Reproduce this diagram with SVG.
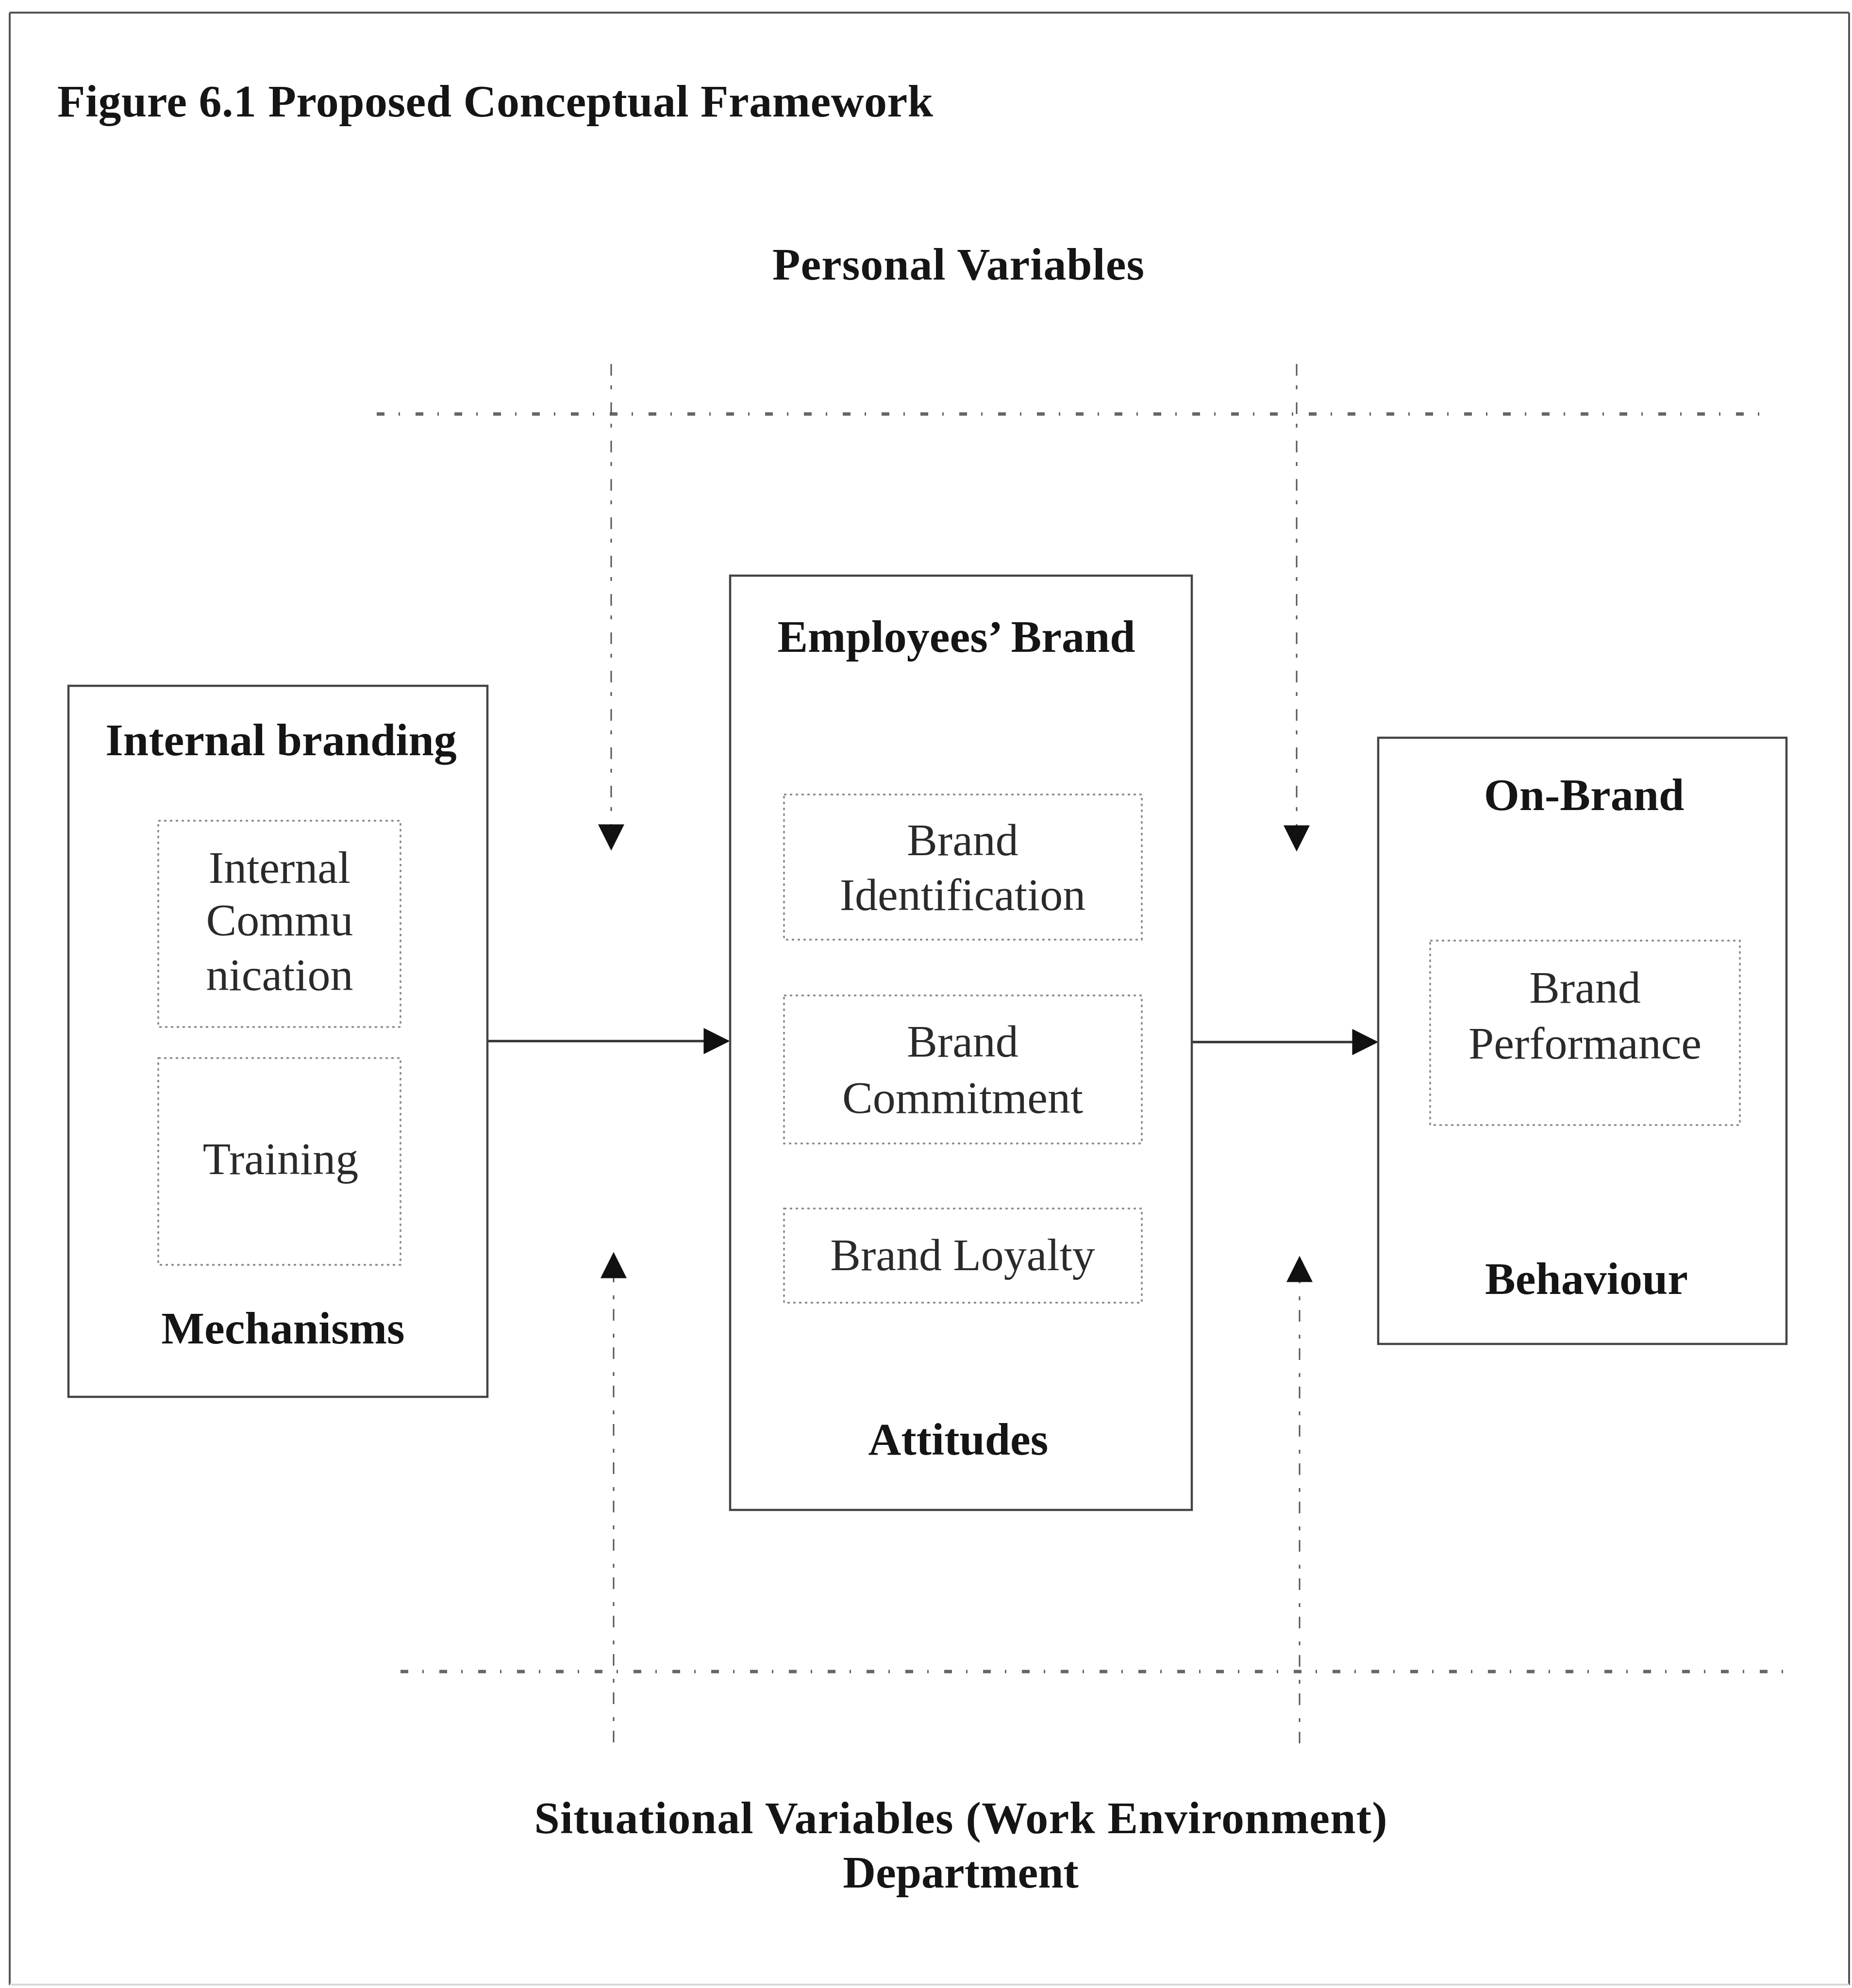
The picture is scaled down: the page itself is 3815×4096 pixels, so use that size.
<svg xmlns="http://www.w3.org/2000/svg" width="3815" height="4096" viewBox="0 0 3815 4096">
  <defs>
    <marker id="head" markerUnits="userSpaceOnUse" markerWidth="54" markerHeight="54" viewBox="0 0 52 52" refX="40" refY="26" orient="auto">
      <path d="M0,0 L52,26 L0,52 z" fill="#111"/>
    </marker>
    <style>
      .frame { fill: none; stroke: #555; stroke-width: 4; }
      .box { fill: none; stroke: #444; stroke-width: 4.5; }
      .inner { fill: none; stroke: #888; stroke-width: 3.5; stroke-dasharray: 5 7; }
      .flow { stroke: #333; stroke-width: 5; fill: none; }
      .vdash { stroke: #555; stroke-width: 3; fill: none; stroke-dasharray: 24 20 8 27; }
      .hdash { stroke: #666; stroke-width: 7; fill: none; stroke-dasharray: 16 29 3 32; }
      .head { font-family: "Liberation Serif", "Times New Roman", serif; font-weight: bold; font-size: 94px; fill: #151515; text-anchor: middle; }
      .label { font-family: "Liberation Serif", "Times New Roman", serif; font-size: 94px; fill: #2a2a2a; text-anchor: middle; }
      .title { font-family: "Liberation Serif", "Times New Roman", serif; font-weight: bold; font-size: 94px; fill: #151515; }
    </style>
  </defs>

  <rect width="3815" height="4096" fill="#ffffff"/>

  <!-- outer border of the figure -->
  <g id="frame">
    <line class="frame" x1="20" y1="26" x2="3809" y2="26"/>
    <line class="frame" x1="20" y1="26" x2="20" y2="4090"/>
    <line class="frame" x1="3809" y1="26" x2="3809" y2="4090"/>
    <line x1="20" y1="4089" x2="3809" y2="4089" stroke="#d8d8d8" stroke-width="4"/>
  </g>

  <text id="title" class="title" x="118" y="240" textLength="1804" lengthAdjust="spacing">Figure 6.1 Proposed Conceptual Framework</text>

  <!-- moderator labels -->
  <g id="personal-variables">
    <text class="head" x="1974" y="576" textLength="766" lengthAdjust="spacing">Personal Variables</text>
  </g>
  <g id="situational-variables">
    <text class="head" x="1979" y="3777" textLength="1757" lengthAdjust="spacing">Situational Variables (Work Environment)</text>
    <text class="head" x="1979" y="3889">Department</text>
  </g>

  <!-- connectors -->
  <g id="connectors">
    <line class="hdash" x1="776" y1="853" x2="3632" y2="853"/>
    <line class="hdash" x1="825" y1="3444" x2="3690" y2="3444"/>

    <line class="vdash" x1="1259" y1="750" x2="1259" y2="1740" marker-end="url(#head)"/>
    <line class="vdash" x1="2671" y1="750" x2="2671" y2="1742" marker-end="url(#head)"/>
    <line class="vdash" x1="1264" y1="3590" x2="1264" y2="2592" marker-end="url(#head)"/>
    <line class="vdash" x1="2677" y1="3592" x2="2677" y2="2600" marker-end="url(#head)"/>

    <line class="flow" x1="1004" y1="2145" x2="1491" y2="2145" marker-end="url(#head)"/>
    <line class="flow" x1="2455" y1="2147" x2="2827" y2="2147" marker-end="url(#head)"/>
  </g>

  <!-- Internal branding mechanisms -->
  <g id="internal-branding">
    <rect class="box" x="141" y="1413" width="863" height="1465"/>
    <text class="head" x="579" y="1556">Internal branding</text>
    <text class="head" x="583" y="2768">Mechanisms</text>
  </g>
  <g id="internal-communication">
    <rect class="inner" x="326" y="1691" width="499" height="425"/>
    <text class="label" x="576" y="1819">Internal</text>
    <text class="label" x="576" y="1927">Commu</text>
    <text class="label" x="576" y="2040">nication</text>
  </g>
  <g id="training">
    <rect class="inner" x="326" y="2180" width="499" height="426"/>
    <text class="label" x="578" y="2419">Training</text>
  </g>

  <!-- Employees' brand attitudes -->
  <g id="employees-brand">
    <rect class="box" x="1504" y="1186" width="951" height="1925"/>
    <text class="head" x="1970" y="1343">Employees&#8217; Brand</text>
    <text class="head" x="1974" y="2997">Attitudes</text>
  </g>
  <g id="brand-identification">
    <rect class="inner" x="1615" y="1637" width="737" height="299"/>
    <text class="label" x="1983" y="1762">Brand</text>
    <text class="label" x="1983" y="1875">Identification</text>
  </g>
  <g id="brand-commitment">
    <rect class="inner" x="1615" y="2051" width="737" height="305"/>
    <text class="label" x="1983" y="2177">Brand</text>
    <text class="label" x="1983" y="2293">Commitment</text>
  </g>
  <g id="brand-loyalty">
    <rect class="inner" x="1615" y="2490" width="737" height="194"/>
    <text class="label" x="1983" y="2617">Brand Loyalty</text>
  </g>

  <!-- On-brand behaviour -->
  <g id="on-brand">
    <rect class="box" x="2839" y="1520" width="841" height="1249"/>
    <text class="head" x="3263" y="1669">On-Brand</text>
    <text class="head" x="3268" y="2666">Behaviour</text>
  </g>
  <g id="brand-performance">
    <rect class="inner" x="2946" y="1938" width="638" height="380"/>
    <text class="label" x="3265" y="2066">Brand</text>
    <text class="label" x="3265" y="2181">Performance</text>
  </g>
</svg>
